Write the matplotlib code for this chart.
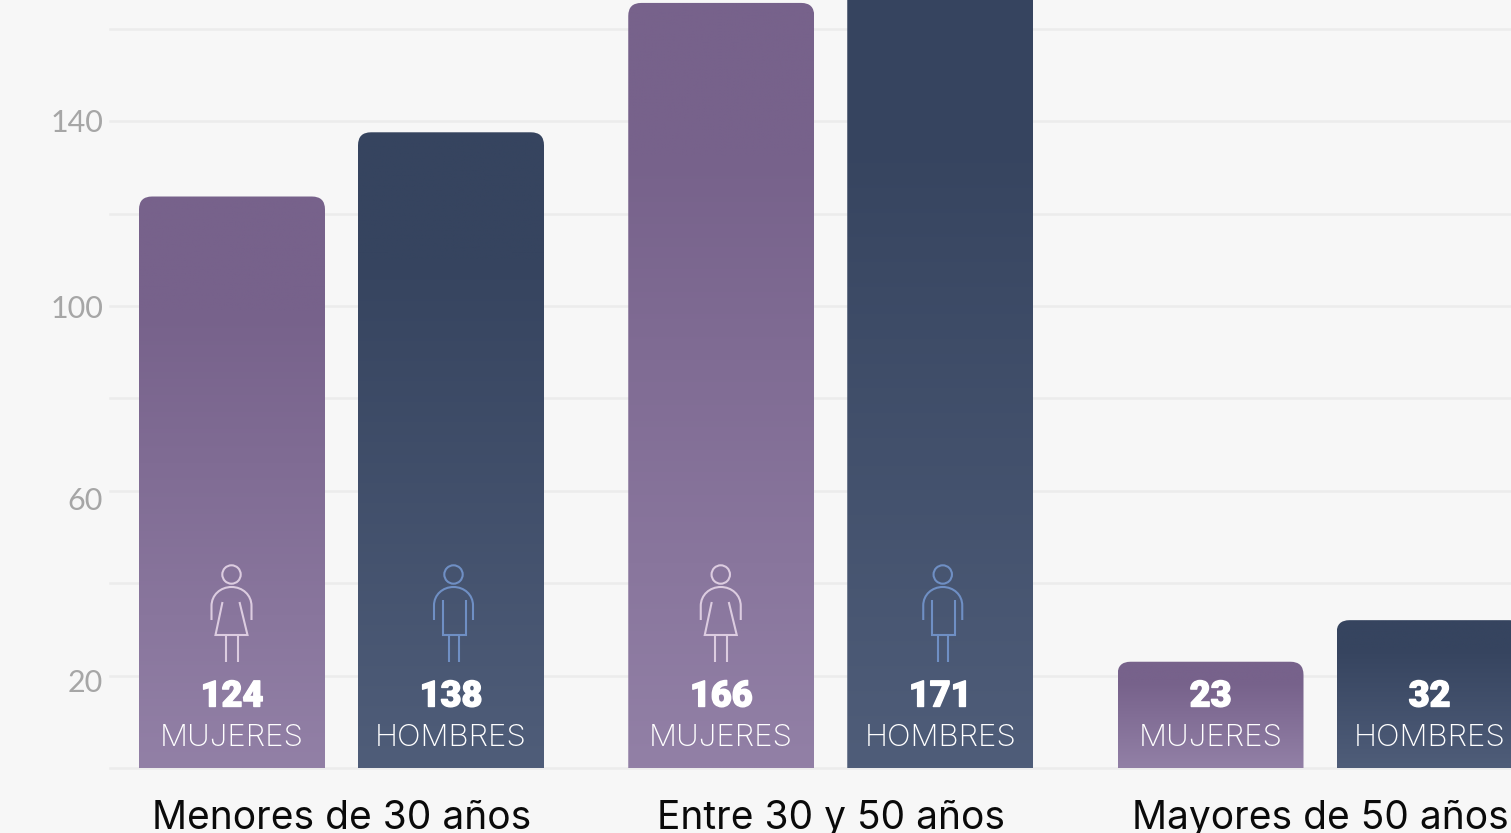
import numpy as np
import matplotlib
matplotlib.use("Agg")
import matplotlib.pyplot as plt
import matplotlib.patheffects as pe
from matplotlib.patches import FancyBboxPatch, Circle
from matplotlib.path import Path
from matplotlib.patches import PathPatch
from matplotlib.colors import LinearSegmentedColormap
from matplotlib.transforms import ScaledTranslation, Affine2D

groups = ["Menores de 30 años", "Entre 30 y 50 años", "Mayores de 50 años"]
mujeres_txt = ["124", "166", "23"]
hombres_txt = ["138", "171", "32"]
mujeres = [123.7, 165.6, 23]
hombres = [137.6, 171, 32]
label_m = "MUJERES"
label_h = "HOMBRES"
grid_vals = list(range(0, 161, 20))
tick_labels = {20: "20", 60: "60", 100: "100", 140: "140"}
tick_shift_px = {20: -5, 60: -8, 100: -1, 140: 1}

W, H, DPI = 1511, 833, 100
BG = "#f7f7f7"
fig = plt.figure(figsize=(W / DPI, H / DPI), dpi=DPI, facecolor=BG)
ax = fig.add_axes([110 / W, (H - 768) / H, (W - 110) / W, 768 / H], facecolor=BG)
px_per_unit = 4.62
spacing = 489.25
XLIM = ((110 - 341.5) / spacing, (1511 - 341.5) / spacing)
YLIM = (0, 768 / px_per_unit)
barw = 186 / spacing
off = 109.5 / spacing

for s in ax.spines.values():
    s.set_visible(False)
ax.set_axisbelow(True)
ax.set_yticks(grid_vals)
ax.set_yticklabels([tick_labels.get(v, "") for v in grid_vals], family="Lato", fontweight="normal",
                   fontsize=22, color="#a6a6a6")
ax.tick_params(axis="y", length=0, pad=5)
ax.grid(axis="y", color="#ececec", lw=1.8, clip_on=False)
ax.get_ygridlines()[0].set_clip_on(False)
for v, lab in zip(grid_vals, ax.get_yticklabels()):
    if v in tick_shift_px:
        lab.set_transform(lab.get_transform() + ScaledTranslation(0, tick_shift_px[v] / DPI, fig.dpi_scale_trans))
ax.set_xticks(range(len(groups)))
ax.set_xticklabels(groups, family="Inter", fontsize=28, color="#0a0a0a")
ax.tick_params(axis="x", length=0, pad=23)

cm_w = LinearSegmentedColormap.from_list("w", [(0, "#77628b"), (0.2, "#77628b"), (1, "#9280a6")])
cm_m = LinearSegmentedColormap.from_list("m", [(0, "#36445f"), (0.2, "#36445f"), (1, "#4f5d79")])
grad = np.linspace(0, 1, 256).reshape(-1, 1)

radius_x = 13 / spacing
radius_y = 13 / px_per_unit


def px_trans(x):
    # pixel-sized glyph anchored on the baseline under the bar centre
    return (Affine2D().scale(1 / DPI) + fig.dpi_scale_trans +
            ScaledTranslation(x, 0, ax.transData))


def person(x, female, color):
    t = px_trans(x)
    dx = -0.5 if female else 2.5
    kw = dict(fc="none", ec=color, lw=1.5, transform=t, zorder=5, clip_on=False)
    ax.add_patch(Circle((dx, 768 - 574.5), 9.2, **kw))
    hw = 20 if female else 19.5
    k = hw * 0.552
    top = 768 - 587
    arms = Path([(dx - hw, 768 - 620), (dx - hw, top - hw + 1),
                 (dx - hw, top - hw + 1 + k), (dx - k, top), (dx, top),
                 (dx + k, top), (dx + hw, top - hw + 1 + k), (dx + hw, top - hw + 1),
                 (dx + hw, 768 - 620)],
                [Path.MOVETO, Path.LINETO, Path.CURVE4, Path.CURVE4, Path.CURVE4,
                 Path.CURVE4, Path.CURVE4, Path.LINETO, Path.LINETO])
    ax.add_patch(PathPatch(arms, **kw))
    if female:
        body = [(dx - 9, 768 - 602), (dx - 16, 768 - 635), (dx + 16, 768 - 635), (dx + 8, 768 - 602)]
        legs = (-6, 6)
    else:
        body = [(dx - 11, 768 - 600), (dx - 11, 768 - 635), (dx + 12, 768 - 635), (dx + 12, 768 - 600)]
        legs = (-5, 5)
    ax.add_patch(PathPatch(Path(body), **kw))
    for l in legs:
        ax.add_patch(PathPatch(Path([(dx + l, 768 - 635), (dx + l, 768 - 662)]), **kw))


def bar(x, v, cmap, value_text, word, icon_color, female):
    patch = FancyBboxPatch((x - barw / 2, -radius_y * 2), barw, v + radius_y * 2,
                           boxstyle="round,pad=0,rounding_size=1", mutation_aspect=radius_y / radius_x,
                           mutation_scale=radius_x, fc="none", ec="none", zorder=2)
    ax.add_patch(patch)
    im = ax.imshow(grad, extent=(x - barw / 2, x + barw / 2, 0, v), aspect="auto", cmap=cmap,
                   zorder=2, origin="upper")
    im.set_clip_path(patch)
    ax.annotate(value_text, (x, 0), xytext=(0, 75.5 * 0.72), textcoords="offset points", ha="center",
                va="center_baseline", family="Roboto", fontweight="black", fontsize=26, color="white", zorder=6,
                annotation_clip=False,
                path_effects=[pe.withStroke(linewidth=1.0, foreground="white")])
    ax.annotate(word, (x, 0), xytext=(0, 33 * 0.72), textcoords="offset points", ha="center",
                va="center_baseline", family="Inter", fontweight="light", fontsize=22.5, color="white", zorder=6,
                annotation_clip=False)
    if v > 60:
        person(x, female, icon_color)


for i in range(len(groups)):
    bar(i - off, mujeres[i], cm_w, mujeres_txt[i], label_m, "#dccce0", True)
    bar(i + off, hombres[i], cm_m, hombres_txt[i], label_h, "#6f8fc4", False)

ax.set_xlim(*XLIM)
ax.set_ylim(*YLIM)
fig.savefig("out.png", dpi=DPI, facecolor=BG)
